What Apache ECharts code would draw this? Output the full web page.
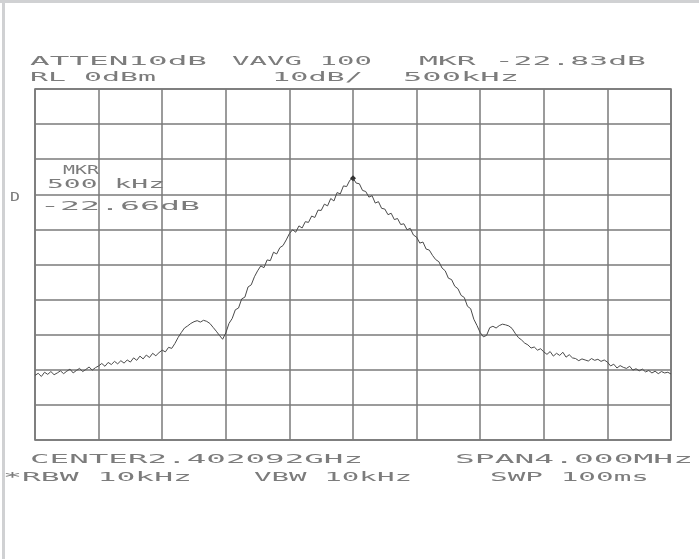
<!DOCTYPE html>
<html>
<head>
<meta charset="utf-8">
<script src="https://cdn.jsdelivr.net/npm/echarts@6/dist/echarts.min.js"></script>
<style>
  html, body { margin: 0; padding: 0; background: #fff; }
  #chart { width: 699px; height: 559px; }
</style>
</head>
<body>
<div id="chart"></div>
<script>
// Spectrum analyzer trace: frequency offset from centre (MHz) vs level (dB)
const spanStartMHz = -2.0;
const sampleStepMHz = 0.02;

// Trace levels in dB, one sample every 20 kHz across the 4 MHz span
const traceDb = [
  -81.6, -81.0, -81.9, -80.7, -81.3, -80.5, -81.4, -80.9, -80.3, -81.1,
  -80.4, -79.8, -80.9, -80.2, -79.6, -80.5, -79.9, -79.2, -80.1, -79.4,
  -78.9, -78.2, -79.0, -77.9, -78.5, -77.6, -78.3, -77.4, -78.1, -77.2,
  -77.8, -76.6, -77.3, -76.1, -76.9, -75.8, -76.5, -75.3, -76.0, -75.1,
  -74.4, -74.9, -73.6, -73.9, -72.5, -70.8, -69.4, -68.1, -67.5, -66.8,
  -66.3, -66.0, -66.4, -65.9, -66.2, -66.8, -67.9, -69.0, -70.2, -71.3,
  -69.5, -66.8, -65.4, -62.9, -62.4, -59.8, -59.3, -56.4, -55.8, -53.5,
  -51.8, -50.4, -50.9, -48.7, -48.9, -46.5, -47.0, -45.2, -44.6, -43.0,
  -41.2, -40.1, -40.8, -39.0, -39.6, -37.8, -38.0, -36.2, -36.6, -34.5,
  -34.6, -32.8, -33.3, -31.2, -31.9, -29.5, -29.9, -27.6, -27.8, -26.0,
  -25.4, -26.8, -27.0, -28.9, -29.2, -30.8, -30.4, -32.5, -32.1, -34.0,
  -34.2, -35.8, -35.4, -37.2, -36.9, -38.6, -38.4, -40.1, -39.7, -41.6,
  -42.2, -43.9, -43.6, -45.6, -45.9, -47.4, -48.6, -49.2, -51.0, -51.8,
  -53.9, -54.3, -56.2, -56.9, -58.8, -59.4, -61.9, -62.6, -65.6, -67.4,
  -69.4, -70.6, -70.2, -68.0, -67.6, -68.1, -67.4, -67.0, -67.2, -67.5,
  -68.2, -69.6, -70.8, -71.5, -72.4, -72.9, -73.8, -73.5, -74.4, -74.0,
  -74.9, -75.6, -74.8, -76.1, -75.3, -75.9, -75.0, -76.4, -75.7, -76.6,
  -76.8, -77.4, -76.9, -77.2, -77.5, -76.8, -77.3, -77.0, -77.6, -77.2,
  -77.8, -78.9, -78.4, -79.5, -78.8, -79.3, -79.6, -79.0, -80.1, -79.7,
  -80.3, -79.8, -80.6, -80.2, -80.9, -80.4, -81.1, -80.5, -80.9, -80.7, -81.2
];

// Instrument annotation lines
const headerTexts = ['ATTEN10dB', 'VAVG 100', 'MKR -22.83dB', 'RL 0dBm', '10dB/', '500kHz'];
const footerTexts = ['CENTER2.402092GHz', 'SPAN4.000MHz', '*RBW 10kHz', 'VBW 10kHz', 'SWP 100ms'];
const markerTexts = ['MKR', '500 kHz', '-22.66dB'];
const sideText = 'D';

const traceData = traceDb.map((v, i) => [spanStartMHz + i * sampleStepMHz, v]);

const FONT = '12px "DejaVu Sans Mono"';
const TEXT_COLOR = '#7c7c7c';
const measureCtx = document.createElement('canvas').getContext('2d');
measureCtx.font = FONT;

// Stretched stroke-style label: left edge x, vertical centre y, target width w
function label(text, x, y, w) {
  const natural = measureCtx.measureText(text).width;
  return {
    type: 'text',
    x: x,
    y: y,
    scaleX: w / natural,
    scaleY: 1.08,
    silent: true,
    style: {
      text: text,
      font: FONT,
      fill: TEXT_COLOR,
      verticalAlign: 'middle',
      align: 'left'
    }
  };
}

const chart = echarts.init(document.getElementById('chart'), null, { renderer: 'canvas' });

chart.setOption({
  animation: false,
  backgroundColor: '#ffffff',
  grid: {
    left: 35, top: 89, width: 636, height: 351,
    show: true,
    borderColor: '#6a6a6a',
    borderWidth: 1.5,
    backgroundColor: 'transparent'
  },
  xAxis: {
    type: 'value',
    min: -2, max: 2, interval: 0.4,
    axisLine: { show: false },
    axisTick: { show: false },
    axisLabel: { show: false },
    splitLine: { show: true, lineStyle: { color: '#7a7a7a', width: 1.5 } }
  },
  yAxis: {
    type: 'value',
    min: -100, max: 0, interval: 10,
    axisLine: { show: false },
    axisTick: { show: false },
    axisLabel: { show: false },
    splitLine: { show: true, lineStyle: { color: '#7a7a7a', width: 1.5 } }
  },
  series: [{
    type: 'line',
    data: traceData,
    showSymbol: false,
    lineStyle: { color: '#4a4a4a', width: 1 },
    markPoint: {
      symbol: 'diamond',
      symbolSize: 6,
      itemStyle: { color: '#333' },
      label: { show: false },
      data: [{ type: 'max' }]
    }
  }],
  graphic: [
    { type: 'rect', shape: { x: 0, y: 0, width: 699, height: 3 }, style: { fill: '#d0d1d3' }, silent: true },
    { type: 'rect', shape: { x: 2, y: 0, width: 3, height: 559 }, style: { fill: '#d0d1d3' }, silent: true },
    label(headerTexts[0], 30, 62, 177),
    label(headerTexts[1], 232, 62, 140),
    label(headerTexts[2], 419, 62, 227),
    label(headerTexts[3], 30, 78, 126),
    label(headerTexts[4], 272, 78, 91),
    label(headerTexts[5], 403, 78, 116),
    label(footerTexts[0], 30, 460, 333),
    label(footerTexts[1], 455, 460, 238),
    label(footerTexts[2], 3, 478, 189),
    label(footerTexts[3], 254, 478, 158),
    label(footerTexts[4], 490, 478, 159),
    label(markerTexts[0], 63, 171, 36),
    label(markerTexts[1], 47, 185, 118),
    label(markerTexts[2], 40, 207, 160),
    label(sideText, 10, 198, 10)
  ]
});
</script>
</body>
</html>
